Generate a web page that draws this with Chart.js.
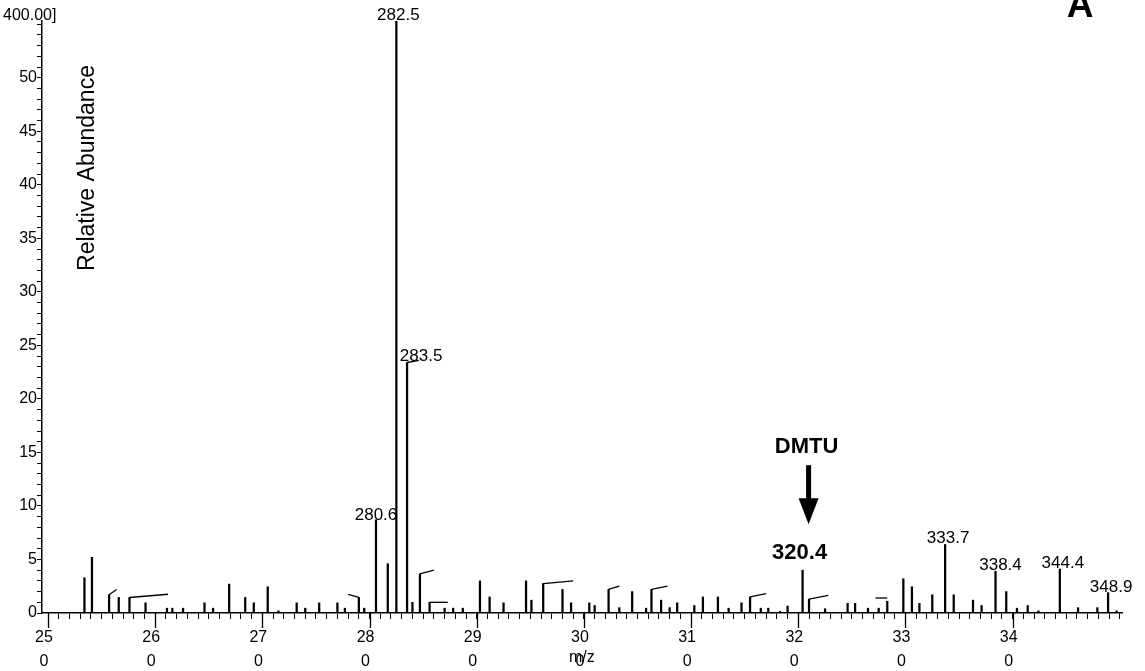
<!DOCTYPE html>
<html>
<head>
<meta charset="utf-8">
<script src="https://cdn.jsdelivr.net/npm/chart.js@4.4.1/dist/chart.umd.min.js"></script>
<style>
  html, body { margin: 0; padding: 0; background: #fff; }
  #wrap { width: 1145px; height: 671px; }
</style>
</head>
<body>
<div id="wrap"><canvas id="spectrum"></canvas></div>
<script>
// stick spectrum: m/z and relative abundance of each ion
const peakMz = [
  253.4, 254.1, 255.7, 256.6, 257.6, 259.1, 261.1, 261.6, 262.6, 264.6,
  265.4, 266.9, 268.4, 269.2, 270.5, 271.5, 273.2, 274.0, 275.3, 277.0,
  277.7, 279.0, 279.5, 280.6, 281.7, 282.5, 283.5, 284.0, 284.7, 285.6,
  287.0, 287.8, 288.7, 290.3, 291.2, 292.5, 294.6, 295.1, 296.2, 298.0,
  298.8, 300.5, 301.0, 302.3, 303.3, 304.5, 305.8, 306.3, 307.2, 308.0,
  308.7, 310.3, 311.1, 312.5, 313.5, 314.7, 315.5, 316.5, 317.2, 318.3,
  319.0, 320.4, 321.0, 322.5, 324.6, 325.3, 326.5, 327.5, 328.3, 329.8,
  330.6, 331.3, 332.5, 333.7, 334.5, 336.3, 337.1, 338.4, 339.4, 340.4,
  341.4, 342.4, 344.4, 346.1, 347.9, 348.9, 349.7
];
const peakAbundance = [
  3.3, 5.2, 1.7, 1.45, 1.45, 0.95, 0.45, 0.45, 0.45, 0.95,
  0.45, 2.7, 1.45, 0.95, 2.45, 0.2, 0.95, 0.45, 0.95, 0.95,
  0.45, 1.45, 0.45, 8.7, 4.6, 55.3, 23.4, 1.0, 3.65, 1.0,
  0.45, 0.45, 0.45, 3.0, 1.5, 0.95, 3.0, 1.2, 2.75, 2.2,
  0.95, 0.95, 0.7, 2.2, 0.5, 2.0, 0.45, 2.2, 1.2, 0.5,
  0.95, 0.7, 1.5, 1.5, 0.45, 0.95, 1.5, 0.45, 0.45, 0.15,
  0.65, 4.0, 1.3, 0.4, 0.9, 0.9, 0.45, 0.45, 1.1, 3.2,
  2.45, 0.9, 1.7, 6.4, 1.7, 1.2, 0.7, 3.9, 2.0, 0.45,
  0.7, 0.2, 4.1, 0.5, 0.5, 1.9, 0.2
];

// ions that carry an m/z annotation
const labelMz = [280.6, 282.5, 283.5, 320.4, 333.7, 338.4, 344.4, 348.9];
const highlightMz = 320.4;
const highlightName = "DMTU";

// short leader strokes from the peak tops: [mz0, y0, mz1, y1]
const leaderLines = [
  [255.7, 1.7, 256.4, 2.2],
  [257.6, 1.45, 261.2, 1.75],
  [279.0, 1.45, 278.0, 1.75],
  [283.5, 23.4, 284.6, 23.6],
  [284.7, 3.65, 286.0, 4.0],
  [285.6, 1.0, 287.3, 1.0],
  [296.2, 2.75, 299.0, 3.0],
  [302.3, 2.2, 303.3, 2.5],
  [306.3, 2.2, 307.8, 2.5],
  [315.5, 1.5, 317.0, 1.8],
  [321.0, 1.3, 322.8, 1.65],
  [327.2, 1.4, 328.3, 1.4]
];

// axis ticks
const xMajorTicks = [250, 260, 270, 280, 290, 300, 310, 320, 330, 340];
const yMajorTicks = [0, 5, 10, 15, 20, 25, 30, 35, 40, 45, 50];
const yTopLabel = "400.00]";

const FONT = "'Liberation Sans', Arial, Helvetica, sans-serif";
Chart.defaults.font.family = FONT;
Chart.defaults.color = "#000";

// per-label nudges (px) and gap above the stick
const labelDx = [0, 2, 14, -3, 3, 5, 3, 3];
const labelGap = [0, 1, 1, 11, 1, 1, 1, 1];

const decorations = {
  id: "decorations",
  afterDraw(chart) {
    const { ctx, chartArea, scales } = chart;
    const xs = scales.x, ys = scales.y;
    ctx.save();
    ctx.strokeStyle = "#000";
    ctx.fillStyle = "#000";

    // longer ticks every 10 m/z
    ctx.lineWidth = 1.3;
    xMajorTicks.forEach(v => {
      const px = Math.round(xs.getPixelForValue(v)) + 0.5;
      ctx.beginPath();
      ctx.moveTo(px, chartArea.bottom);
      ctx.lineTo(px, chartArea.bottom + 15);
      ctx.stroke();
    });

    // m/z labels over the annotated peaks
    ctx.textAlign = "center";
    ctx.textBaseline = "alphabetic";
    labelMz.forEach((m, i) => {
      const h = peakAbundance[peakMz.indexOf(m)];
      const px = xs.getPixelForValue(m) + labelDx[i];
      const py = ys.getPixelForValue(h) - labelGap[i];
      ctx.font = m === highlightMz ? "bold 22px " + FONT : "17px " + FONT;
      ctx.fillText(m.toFixed(1), px, py);
    });

    // DMTU arrow
    const hx = xs.getPixelForValue(highlightMz) + 6;
    const hTop = ys.getPixelForValue(peakAbundance[peakMz.indexOf(highlightMz)]);
    const tip = hTop - 46;
    ctx.font = "bold 22px " + FONT;
    ctx.fillText(highlightName, hx - 2, hTop - 117);
    ctx.fillRect(hx - 2.5, hTop - 105, 5, 36);
    ctx.beginPath();
    ctx.moveTo(hx - 10, tip - 26);
    ctx.lineTo(hx + 10, tip - 26);
    ctx.lineTo(hx, tip);
    ctx.closePath();
    ctx.fill();

    // axis captions
    ctx.font = "16px " + FONT;
    ctx.fillText("m/z", xs.getPixelForValue(300) - 2, chartArea.bottom + 49);
    ctx.textAlign = "left";
    ctx.fillText(yTopLabel, 3, 20);

    ctx.save();
    ctx.translate(chartArea.left + 46, 168);
    ctx.rotate(-Math.PI / 2);
    ctx.textAlign = "center";
    ctx.textBaseline = "middle";
    ctx.font = "23px " + FONT;
    ctx.fillText("Relative Abundance", 0, 0);
    ctx.restore();

    // panel letter
    ctx.textAlign = "center";
    ctx.font = "bold 37px " + FONT;
    ctx.fillText("A", 1080, 17);
    ctx.restore();
  }
};

const ctx = document.getElementById("spectrum").getContext("2d");

const datasets = [
  {
    type: "bar",
    data: peakMz.map((m, i) => ({ x: m, y: peakAbundance[i] })),
    backgroundColor: "#000",
    borderWidth: 0,
    barThickness: 1.6
  }
].concat(leaderLines.map(l => ({
  type: "line",
  data: [{ x: l[0], y: l[1] }, { x: l[2], y: l[3] }],
  borderColor: "#000",
  borderWidth: 1.3,
  pointRadius: 0,
  fill: false,
  tension: 0
})));

new Chart(ctx, {
  type: "bar",
  data: { datasets },
  options: {
    responsive: true,
    maintainAspectRatio: false,
    animation: false,
    layout: { padding: { top: 21, right: 23, left: 0, bottom: 0 } },
    plugins: { legend: { display: false }, tooltip: { enabled: false } },
    scales: {
      x: {
        type: "linear",
        min: 249.44,
        max: 350.2,
        offset: false,
        grid: { drawOnChartArea: false, offset: false, tickLength: 6, tickColor: "#000", tickWidth: 1 },
        border: { color: "#000", width: 1.5 },
        ticks: {
          stepSize: 1,
          includeBounds: false,
          autoSkip: false,
          maxRotation: 0,
          minRotation: 0,
          padding: 7,
          labelOffset: -4,
          font: { size: 16, lineHeight: 1.5 },
          callback: v => xMajorTicks.includes(v) ? [String(v / 10), "0"] : ""
        },
        afterFit: s => { s.height = 58; }
      },
      y: {
        min: 0,
        max: 55.3,
        grid: { drawOnChartArea: false, tickLength: 5, tickColor: "#000", tickWidth: 1 },
        border: { color: "#000", width: 1.5 },
        ticks: {
          stepSize: 1,
          includeBounds: false,
          autoSkip: false,
          padding: 0,
          font: { size: 16 },
          callback: v => yMajorTicks.includes(v) ? String(v) : ""
        },
        afterFit: s => { s.width = 42; }
      }
    }
  },
  plugins: [decorations]
});
</script>
</body>
</html>
